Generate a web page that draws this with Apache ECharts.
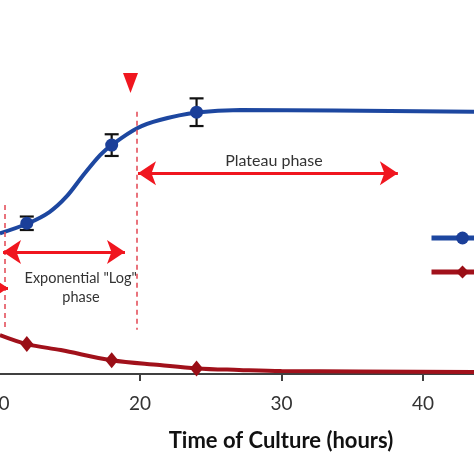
<!DOCTYPE html>
<html>
<head>
<meta charset="utf-8">
<script src="https://cdn.jsdelivr.net/npm/echarts@6/dist/echarts.min.js"></script>
<style>html,body{margin:0;padding:0;background:#fff;}#c{width:474px;height:474px;}</style>
</head>
<body>
<div id="c"></div>
<script>
// Measured points (time in hours, arbitrary density units)
var measuredTimes = [12, 18, 24];
var cellMeans = [4.03, 6.12, 7.00];
var cellErrors = [0.18, 0.29, 0.37];
var nutrientMeans = [0.80, 0.37, 0.15];

// Fitted curves
var cellCurveTimes = [10.1, 12.1, 13.6, 14.8, 16.0, 17.2, 18.0, 19.8, 21.4, 24.0, 27.1, 44];
var cellCurveValues = [3.76, 4.03, 4.33, 4.74, 5.32, 5.86, 6.12, 6.57, 6.79, 6.99, 7.06, 7.01];
var nutrientCurveTimes = [10.1, 12.0, 14.4, 18.0, 21.4, 24.0, 27.0, 30.0, 44];
var nutrientCurveValues = [1.04, 0.80, 0.64, 0.37, 0.24, 0.15, 0.11, 0.08, 0.05];

// Axis ticks
var xMin = 10, xMax = 44, xInterval = 10;

// Annotation anchors (data coordinates)
var lagLineTop = 4.52, lagLineBottom = 1.18, lagLineTime = 10.46;
var plateauLineTop = 7.01, plateauLineBottom = 1.18, plateauLineTime = 19.79;
var expArrow = [[10.32, 3.26], [18.94, 3.26]];
var plateauArrow = [[19.86, 5.37], [38.23, 5.37]];
var lagArrow = [[10.0, 2.30], [10.67, 2.30]];
var markerTriangle = [19.33, 7.78];
var labelPlateau = [29.47, 5.70];
var labelExp1 = [15.81, 2.57];
var labelExp2 = [15.83, 2.06];

var seriesNames = ['Viable cell density', 'Glucose'];

function pairs(xs, ys) { return xs.map(function (x, i) { return [x, ys[i]]; }); }

var blue = '#1d47a0', darkRed = '#a1111b', arrowRed = '#f0161f', dashRed = '#e4515c';
var font = 'Lato, "Open Sans", sans-serif';

var chart = echarts.init(document.getElementById('c'));
chart.setOption({
  animation: false,
  backgroundColor: '#fff',
  grid: { left: -1.5, right: -5.5, top: 0, bottom: 100, containLabel: false, outerBoundsMode: 'none' },
  xAxis: {
    type: 'value', min: xMin, max: xMax, interval: xInterval,
    axisLine: { lineStyle: { color: '#404040', width: 2 } },
    axisTick: { length: 7, lineStyle: { color: '#404040', width: 2 } },
    splitLine: { show: false },
    axisLabel: {
      fontFamily: font, fontSize: 19, color: '#333', margin: 20, showMaxLabel: false, hideOverlap: false,
      formatter: function (v) { return v % xInterval === 0 ? String(v) : ''; }
    },
    name: 'Time of Culture (hours)', nameLocation: 'middle', nameGap: 56,
    nameTextStyle: { fontFamily: font, fontSize: 22, fontWeight: 'bold', color: '#111', padding: [0, 0, 0, 84] }
  },
  yAxis: { type: 'value', min: 0, max: 10, show: false },
  legend: {
    orient: 'vertical', left: 424, top: 226, itemWidth: 62, itemHeight: 16, itemGap: 20,
    textStyle: { fontFamily: font, fontSize: 14, color: '#333' },
    data: [
      { name: seriesNames[0], lineStyle: { opacity: 1, width: 5, color: blue } },
      { name: seriesNames[1], lineStyle: { opacity: 1, width: 5, color: darkRed } }
    ]
  },
  series: [
    {
      type: 'line', name: 'cellCurve', data: pairs(cellCurveTimes, cellCurveValues),
      smooth: 0.35, showSymbol: false, lineStyle: { color: blue, width: 4 }, z: 3,
      markLine: {
        silent: true, symbol: ['none', 'none'], label: { show: false },
        lineStyle: { color: dashRed, type: [5, 4], width: 1.6 },
        data: [
          [{ coord: [lagLineTime, lagLineTop] }, { coord: [lagLineTime, lagLineBottom] }],
          [{ coord: [plateauLineTime, plateauLineTop] }, { coord: [plateauLineTime, plateauLineBottom] }]
        ]
      },
      markPoint: {
        silent: true,
        data: [
          { coord: markerTriangle, symbol: 'triangle', symbolRotate: 180, symbolSize: [15, 20], itemStyle: { color: arrowRed }, label: { show: false } },
          { coord: labelPlateau, symbol: 'circle', symbolSize: 0, label: { show: true, position: 'inside', formatter: 'Plateau phase', fontFamily: font, fontSize: 16, color: '#333' } },
          { coord: labelExp1, symbol: 'circle', symbolSize: 0, label: { show: true, position: 'inside', formatter: 'Exponential "Log"', fontFamily: font, fontSize: 14.5, color: '#333' } },
          { coord: labelExp2, symbol: 'circle', symbolSize: 0, label: { show: true, position: 'inside', formatter: 'phase', fontFamily: font, fontSize: 14.5, color: '#333' } }
        ]
      }
    },
    {
      type: 'line', name: 'nutrientCurve', data: pairs(nutrientCurveTimes, nutrientCurveValues),
      smooth: 0.35, showSymbol: false, lineStyle: { color: darkRed, width: 4 }, z: 3,
      markLine: {
        silent: true, label: { show: false }, symbolSize: 18,
        lineStyle: { color: arrowRed, type: 'solid', width: 3 },
        data: [
          [{ coord: expArrow[0], symbol: 'arrow' }, { coord: expArrow[1], symbol: 'arrow' }],
          [{ coord: plateauArrow[0], symbol: 'arrow' }, { coord: plateauArrow[1], symbol: 'arrow' }],
          [{ coord: lagArrow[0], symbol: 'none' }, { coord: lagArrow[1], symbol: 'arrow' }]
        ]
      }
    },
    {
      type: 'custom', name: 'errors', z: 4,
      data: measuredTimes.map(function (t, i) { return [t, cellMeans[i], cellErrors[i]]; }),
      renderItem: function (params, api) {
        var t = api.value(0), m = api.value(1), e = api.value(2);
        var hi = api.coord([t, m + e]), lo = api.coord([t, m - e]);
        var w = 7;
        var st = { stroke: '#111', lineWidth: 2.2 };
        return { type: 'group', children: [
          { type: 'line', shape: { x1: hi[0], y1: hi[1], x2: lo[0], y2: lo[1] }, style: st },
          { type: 'line', shape: { x1: hi[0] - w, y1: hi[1], x2: hi[0] + w, y2: hi[1] }, style: st },
          { type: 'line', shape: { x1: lo[0] - w, y1: lo[1], x2: lo[0] + w, y2: lo[1] }, style: st }
        ] };
      }
    },
    {
      type: 'line', name: seriesNames[0], data: pairs(measuredTimes, cellMeans),
      symbol: 'circle', symbolSize: 13, lineStyle: { opacity: 0 }, itemStyle: { color: '#1b3f99' }, z: 5
    },
    {
      type: 'line', name: seriesNames[1], data: pairs(measuredTimes, nutrientMeans),
      symbol: 'diamond', symbolSize: [13, 16], lineStyle: { opacity: 0 }, itemStyle: { color: '#9a0e16' }, z: 5
    }
  ]
});
</script>
</body>
</html>
